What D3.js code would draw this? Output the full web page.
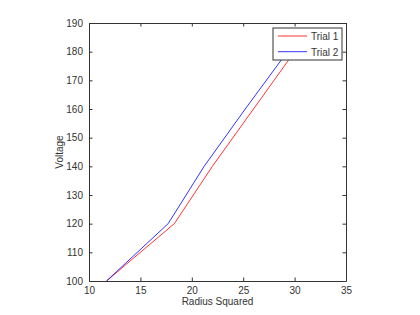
<!DOCTYPE html>
<html>
<head>
<meta charset="utf-8">
<script src="https://cdn.jsdelivr.net/npm/d3@7"></script>
<style>
  body { margin: 0; background: #fff; }
  svg { display: block; font-family: "Liberation Sans", Arial, sans-serif; }
</style>
</head>
<body>
<svg width="420" height="315"></svg>
<script>
// values
var trial1_x = [11.7, 18.3, 22, 26, 30]
var trial1_y = [100, 120, 140, 160, 180]
var trial2_x = [11.7, 17.7, 21.2, 25.2, 29.3]
var trial2_y = [100, 120, 140, 160, 180]
var series_names = ["Trial 1", "Trial 2"]
var series_colors = ["#ff0000", "#0000ff"]
var x_ticks = [10, 15, 20, 25, 30, 35]
var y_ticks = [100, 110, 120, 130, 140, 150, 160, 170, 180, 190]

function make_points(xs, ys) {
    var pts = []
    for (var i = 0; i < xs.length; i++) {
        pts.push({ x: xs[i], y: ys[i] })
    }
    return pts
}

var svg = d3.select("svg"),
    margin = { top: 23, right: 74, bottom: 34, left: 89 },
    width = 420 - margin.left - margin.right,
    height = 315 - margin.top - margin.bottom,
    g = svg.append("g").attr("transform", "translate(" + margin.left + "," + margin.top + ")")

var x_scale = d3.scaleLinear().domain([10, 35]).range([0, width])
var y_scale = d3.scaleLinear().domain([100, 190]).range([height, 0])

var tick_len = 3.5
var font_size = 10

// axes, matlab style: ticks inward on all four sides
g.append("g")
    .attr("transform", "translate(0," + height + ")")
    .call(d3.axisBottom(x_scale).tickValues(x_ticks).tickSizeInner(-tick_len).tickSizeOuter(0).tickPadding(6))
g.append("g")
    .call(d3.axisTop(x_scale).tickValues(x_ticks).tickSizeInner(-tick_len).tickSizeOuter(0).tickFormat(""))
g.append("g")
    .call(d3.axisLeft(y_scale).tickValues(y_ticks).tickSizeInner(-tick_len).tickSizeOuter(0).tickPadding(6))
g.append("g")
    .attr("transform", "translate(" + width + ",0)")
    .call(d3.axisRight(y_scale).tickValues(y_ticks).tickSizeInner(-tick_len).tickSizeOuter(0).tickFormat(""))

g.selectAll(".domain").attr("stroke", "#333")
g.selectAll(".tick line").attr("stroke", "#333")
g.selectAll(".tick text").attr("font-size", font_size).attr("fill", "#333")
    .attr("font-family", "'Liberation Sans', Arial, sans-serif")

var line = d3.line()
    .x(function (d) { return x_scale(d.x) })
    .y(function (d) { return y_scale(d.y) })

var all_series = [make_points(trial1_x, trial1_y), make_points(trial2_x, trial2_y)]

for (var i = 0; i < all_series.length; i++) {
    g.append("path")
        .datum(all_series[i])
        .attr("fill", "none")
        .attr("stroke", series_colors[i])
        .attr("stroke-width", 0.8)
        .attr("d", line)
}

// axis labels
svg.append("text")
    .attr("x", margin.left + width / 2)
    .attr("y", 305)
    .attr("text-anchor", "middle")
    .attr("font-size", font_size)
    .attr("fill", "#333")
    .text("Radius Squared")

svg.append("text")
    .attr("transform", "translate(63," + (margin.top + height / 2) + ") rotate(-90)")
    .attr("text-anchor", "middle")
    .attr("font-size", font_size)
    .attr("fill", "#333")
    .text("Voltage")

// legend
var legend = svg.append("g").attr("transform", "translate(273,28)")
legend.append("rect")
    .attr("width", 69)
    .attr("height", 32)
    .attr("fill", "#fff")
    .attr("stroke", "#333")
    .attr("stroke-width", 1)

var item = legend.selectAll(".item")
    .data(series_names)
    .enter().append("g")
    .attr("transform", function (d, i) { return "translate(0," + (8 + i * 15.7) + ")" })
item.append("line")
    .attr("x1", 5).attr("x2", 34)
    .attr("stroke", function (d, i) { return series_colors[i] })
    .attr("stroke-width", 0.8)
item.append("text")
    .attr("x", 38)
    .attr("y", 4)
    .attr("font-size", font_size)
    .attr("fill", "#333")
    .text(function (d) { return d })
</script>
</body>
</html>
